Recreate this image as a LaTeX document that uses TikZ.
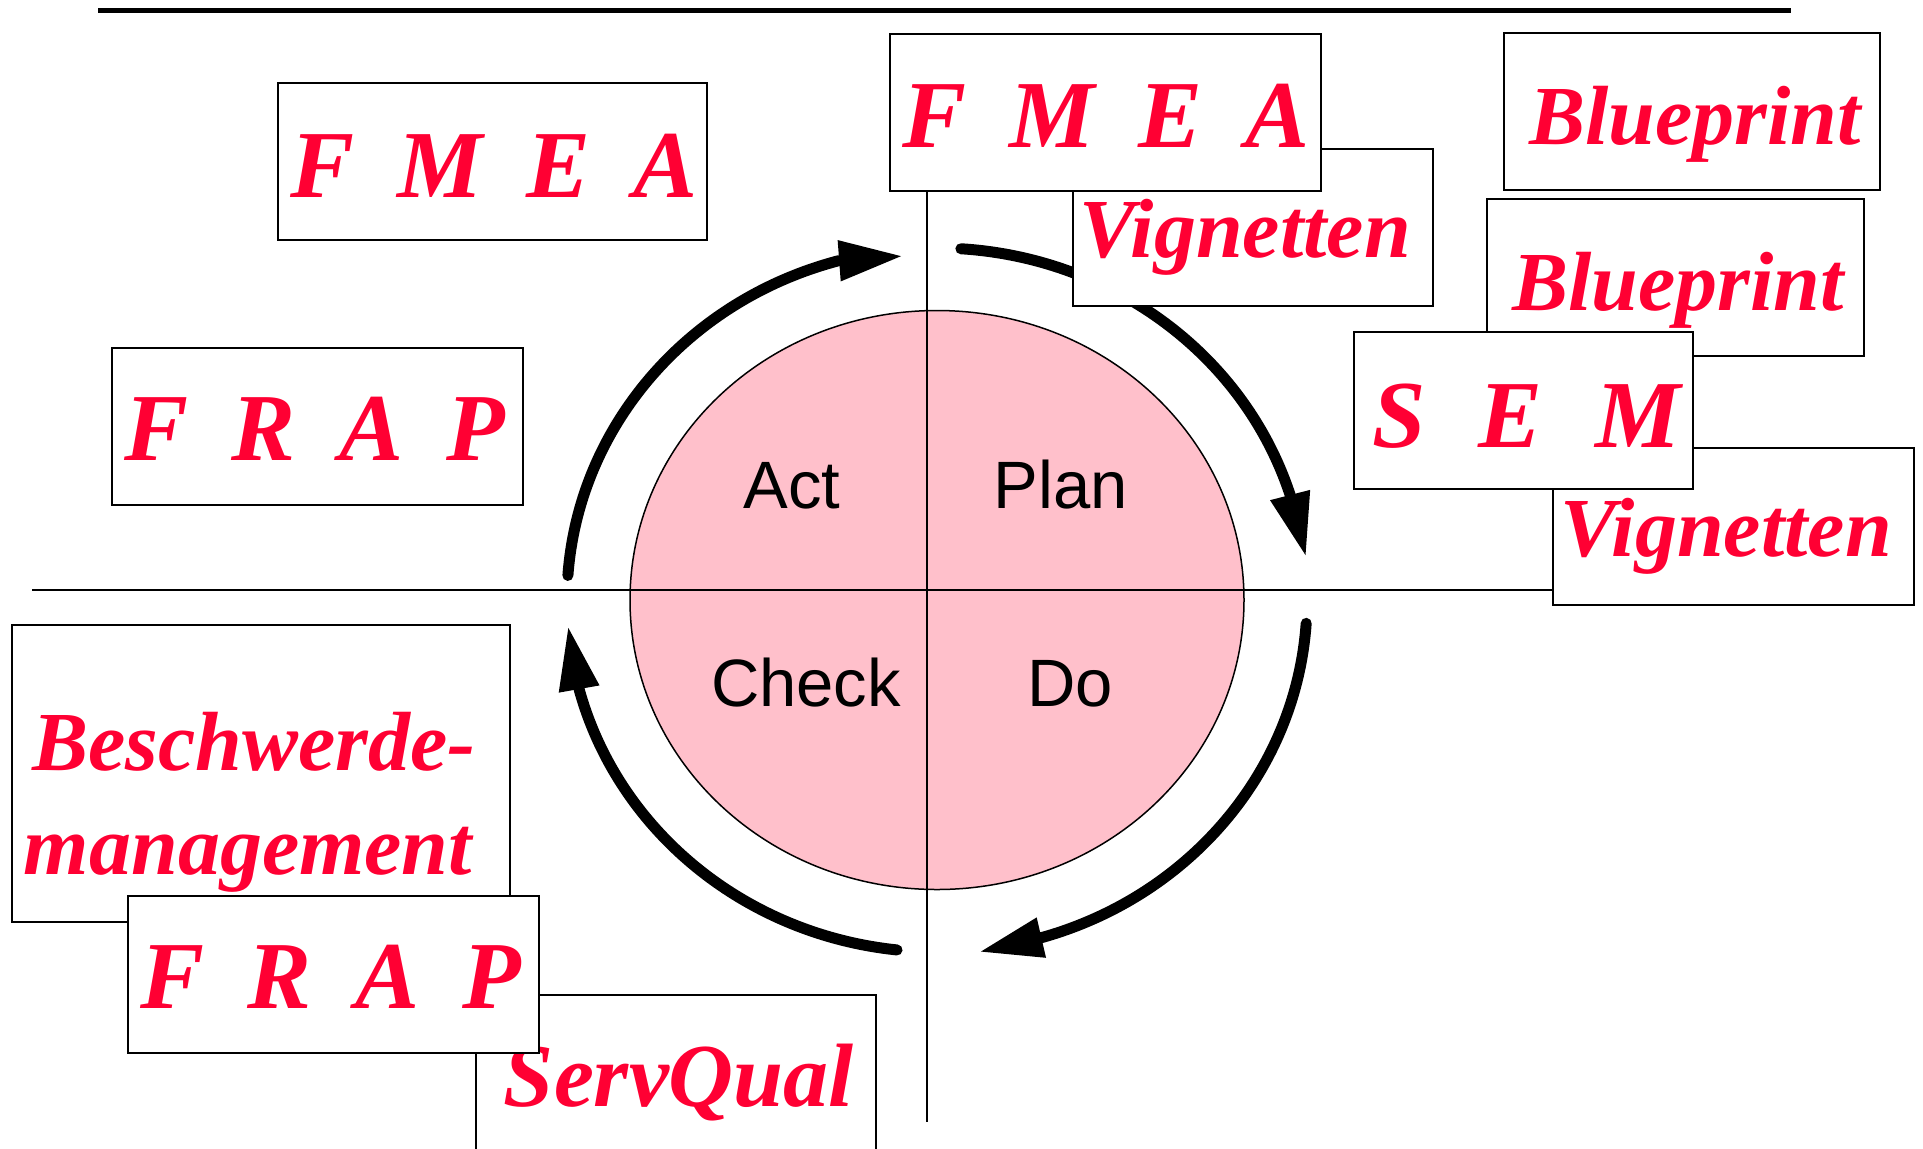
\documentclass[tikz,border=0pt]{standalone}
\usepackage{fontspec}
\setmainfont{Liberation Serif}
\newfontfamily\labelsans{Liberation Sans}
\usetikzlibrary{arrows.meta}
\definecolor{scriptred}{RGB}{255,0,51}
\definecolor{phasepink}{RGB}{255,192,203}
% gap between the letters of the spaced acronyms
\newcommand\gp{\hspace{0.45em}}

\begin{document}
\begin{tikzpicture}[x=0.5pt,y=0.5pt,
  box/.style={draw=black,line width=1pt,fill=white,rectangle,inner sep=0pt,anchor=north west},
  script/.style={text=scriptred,font=\fontsize{42}{50}\selectfont\bfseries\itshape,anchor=base,inner sep=0pt},
  acro/.style={script,font=\fontsize{48}{56}\selectfont\bfseries\itshape},
  phase/.style={font=\labelsans\fontsize{33.5}{40}\selectfont,anchor=base,inner sep=0pt},
  cycle arrow/.style={line width=5.5pt,line cap=round,-{Triangle[length=32pt,width=19pt]}},
  ring arc/.style={x radius=185pt,y radius=176pt}]

\clip (0,0) rectangle (1923,-1148);
\useasboundingbox (0,0) rectangle (1923,-1148);

% rule at the top
\coordinate (ruleL) at (98,-10);
\coordinate (ruleR) at (1791,-10);
\draw[line width=2.5pt] (ruleL) -- (ruleR);

% PDCA wheel
\coordinate (ring) at (937,-600);
\draw[fill=phasepink,line width=0.75pt] (ring) ellipse [x radius=153.5pt,y radius=144.75pt];

% axes
\coordinate (axL) at (32,-590);
\coordinate (axR) at (1600,-590);
\coordinate (axT) at (927,-150);
\coordinate (axB) at (927,-1122);
\draw[line width=1pt] (axL) -- (axR);
\draw[line width=1pt] (axT) -- (axB);

% phase labels
\node[phase] (act)   at (792,-508)  {Act};
\node[phase] (plan)  at (1061,-508) {Plan};
\node[phase] (check) at (806,-706)  {Check};
\node[phase] (do)    at (1070,-706) {Do};

% cycle arrows: an arc round the wheel, then a straight run into the head
\coordinate (tip1) at (1306,-557);
\coordinate (tip2) at (979,-952);
\coordinate (tip3) at (568,-626);
\coordinate (tip4) at (903,-256);
\draw[cycle arrow] ([shift={(86.3:185pt and 176pt)}]ring) arc[start angle=86.3,end angle=17.5,ring arc] -- (tip1);
\draw[cycle arrow] ([shift={(-3.8:185pt and 176pt)}]ring) arc[start angle=-3.8,end angle=-73.3,ring arc] -- (tip2);
\draw[cycle arrow] ([shift={(-96.2:185pt and 176pt)}]ring) arc[start angle=-96.2,end angle=-165.2,ring arc] -- (tip3);
\draw[cycle arrow] ([shift={(176:185pt and 176pt)}]ring) arc[start angle=176,end angle=105.5,ring arc] -- (tip4);

% method cards, top middle
\node[box,minimum width=180pt,minimum height=78.5pt] (vig1) at (1072,-148) {};
\node[script] (vig1t) at (1245,-257) {Vignetten};
\node[box,minimum width=215.5pt,minimum height=78.5pt] (fmeaT) at (889,-33) {};
\node[acro] (fmeaTt) at (1106,-147) {F\gp M\gp E\gp A};

% method cards, right
\node[box,minimum width=188pt,minimum height=78.5pt] (blue1) at (1503,-32) {};
\node[script] (blue1t) at (1695,-144) {Blueprint};
\node[box,minimum width=188.5pt,minimum height=78.5pt] (blue2) at (1486,-198) {};
\node[script] (blue2t) at (1678,-310) {Blueprint};
\node[box,minimum width=180.5pt,minimum height=78.5pt] (vig2) at (1552,-447) {};
\node[script] (vig2t) at (1726,-556) {Vignetten};
\node[box,minimum width=169.5pt,minimum height=78.5pt] (sem) at (1353,-331) {};
\node[acro] (semt) at (1527,-447) {S\gp\hspace{0.1em}E\gp\hspace{0.1em}M};

% method cards, upper left
\node[box,minimum width=214.5pt,minimum height=78.5pt] (fmeaL) at (277,-82) {};
\node[acro] (fmeaLt) at (494,-197) {F\gp M\gp E\gp A};
\node[box,minimum width=205.5pt,minimum height=78.5pt] (frapL) at (111,-347) {};
\node[acro] (frapLt) at (315,-460) {F\gp R\gp A\gp P};

% method cards, lower left
\node[box,minimum width=249pt,minimum height=148.5pt] (besch) at (11,-624) {};
\node[script] (besch1) at (254,-770) {Beschwerde-};
\node[script] (besch2) at (248,-874) {management};
\node[box,minimum width=200pt,minimum height=90pt] (serv) at (475,-994) {};
\node[script,font=\fontsize{45}{52}\selectfont\bfseries\itshape] (servt) at (679,-1106) {ServQual};
\node[box,minimum width=205.5pt,minimum height=78.5pt] (frapB) at (127,-895) {};
\node[acro] (frapBt) at (331,-1008) {F\gp R\gp A\gp P};

\end{tikzpicture}
\end{document}
